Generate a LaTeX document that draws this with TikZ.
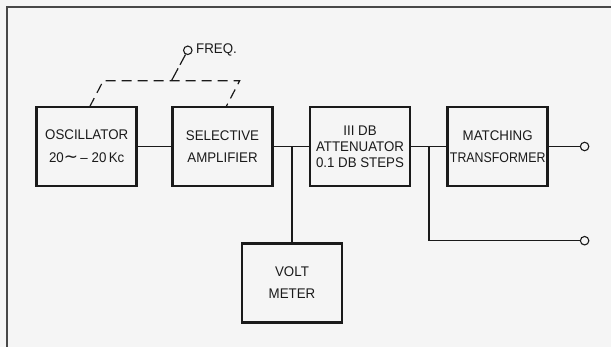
\documentclass[tikz,border=0pt]{standalone}
\usepackage{graphicx}
\usepackage{fontspec}
\setmainfont{Liberation Sans}[FakeStretch=0.95]
\newfontfamily\dejavu{DejaVu Sans}
\definecolor{bg}{HTML}{F5F5F5}
\definecolor{ink}{HTML}{1A1A1A}
\begin{document}
\begin{tikzpicture}[x=1pt,y=-1pt,
  blockbox/.style={draw=ink,line width=2.6pt,minimum width=100pt,minimum height=79pt,
    inner sep=0pt,align=center,font=\fontsize{14}{16}\selectfont,text=ink},
  wire/.style={draw=ink,line width=1.2pt},
  dwire/.style={draw=ink,line width=1.2pt,dash pattern=on 10pt off 6pt},
  term/.style={circle,draw=ink,line width=1.1pt,fill=bg,minimum size=8.5pt,inner sep=0pt}]
\fill[bg] (0,0) rectangle (611,347);
\useasboundingbox (0,0) rectangle (611,347);
% frame
\coordinate (fa) at (7,347);
\coordinate (fb) at (7,7);
\coordinate (fc) at (611,7);
\draw[draw=ink!80,line width=1.6pt] (fa) -- (fb) -- (fc);
% blocks
\node[blockbox] (osc) at (86.7,146.5) {OSCILLATOR\\[7pt]20{\dejavu\fontsize{17}{16}\selectfont ∼}\,–\;20\,Kc};
\node[blockbox] (sel) at (222.5,146.5) {SELECTIVE\\[6pt]AMPLIFIER};
\node[blockbox] (att) at (360,146.5) {III DB\\[0pt]ATTENUATOR\\[0pt]0.1 DB STEPS};
\node[blockbox] (mat) at (497.7,146.5) {MATCHING\\[6pt]\scalebox{0.93}[1]{TRANSFORMER}};
\node[blockbox] (volt) at (292,283) {VOLT\\[6pt]METER};
% terminals
\node[term] (out1) at (584.6,146.5) {};
\node[term] (out2) at (584.6,240.7) {};
\node[term] (freq) at (187.8,50.3) {};
\node[anchor=west,inner sep=0pt,font=\fontsize{14}{16}\selectfont,text=ink] (freqlbl) at (196,50.3) {FREQ.};
% junctions
\coordinate (j1) at (volt.north |- sel.east);
\coordinate (j2) at (429,146.5);
\coordinate (j2b) at (429,240.7);
% connectors
\draw[wire] (osc.east) -- (sel.west);
\draw[wire] (sel.east) -- (att.west);
\draw[wire] (j1) -- (volt.north);
\draw[wire] (att.east) -- (mat.west);
\draw[wire] (mat.east) -- (out1);
\draw[wire] (j2) -- (j2b) -- (out2);
% dashed ganged control
\coordinate (d1) at (89.6,107);
\coordinate (d2) at (103.3,80.7);
\coordinate (d3) at (239.7,80.7);
\coordinate (d4) at (226,107);
\coordinate (dm) at (171.5,80.7);
\draw[dwire] (d1) -- (d2) -- (d3) -- (d4);
\draw[draw=ink,line width=1.2pt,dash pattern=on 14pt off 4pt] (dm) -- (freq);
\end{tikzpicture}
\end{document}
